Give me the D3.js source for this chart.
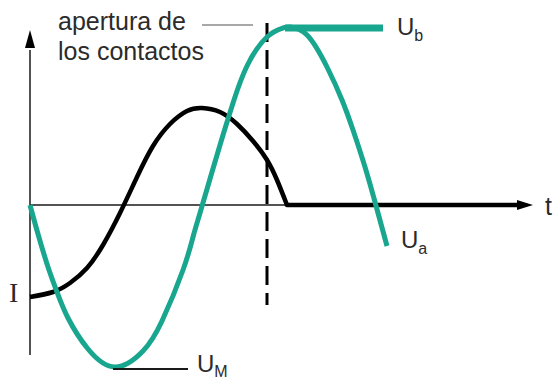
<!DOCTYPE html>
<html>
<head>
<meta charset="utf-8">
<script src="https://cdn.jsdelivr.net/npm/d3@7"></script>
<style>
  body { margin: 0; background: #fff; }
  svg { display: block; }
  .lbl { font-family: "Liberation Sans", Arial, sans-serif; fill: #2b2b2b; }
  .axis { stroke: #1a1a1a; stroke-width: 1.5; fill: none; }
</style>
</head>
<body>
<svg id="chart" width="557" height="380"></svg>
<script>
// time in arbitrary units (0..100), values in arbitrary units (0 on the time axis)
var currentI = [
  [0, -0.92], [4.6, -0.87], [8, -0.78], [11.4, -0.63], [14.6, -0.40],
  [18, -0.08], [21.4, 0.28], [24.6, 0.59], [28, 0.81], [31.4, 0.94],
  [34.4, 0.97], [38, 0.93], [41.4, 0.81], [44.6, 0.64], [47.4, 0.45],
  [49.4, 0.25], [51.4, 0]
];
var currentOff = [[51.4, 0], [97.4, 0]];
var voltageU = [
  [0, 0], [1.6, -0.29], [3.6, -0.62], [5.4, -0.87], [7.6, -1.13], [11.6, -1.44],
  [17, -1.62], [22.6, -1.46], [26.4, -1.16], [30.6, -0.65], [32.6, -0.32],
  [34, -0.08], [36.4, 0.33], [38.6, 0.70], [40.6, 1.02], [43.4, 1.39],
  [47.4, 1.68], [50.6, 1.77], [52, 1.78], [55.4, 1.70], [59.4, 1.38],
  [62.4, 1.05], [64.6, 0.75], [67, 0.38], [69, 0.03], [71.4, -0.41]
];
var plateauUb = [[51, 1.77], [70.6, 1.77]];
var contactOpen = 47.4;            // instant the contacts open
var openLabel = ["apertura de", "los contactos"];
var axisLabels = {t: "t", i: "I"};

var xScale = d3.scaleLinear().domain([0, 100]).range([30, 530]);
var yScale = d3.scaleLinear().domain([-1.5, 1.5]).range([355, 55]);

var svg = d3.select("#chart");
var line = d3.line()
  .x(function(d) { return xScale(d[0]); })
  .y(function(d) { return yScale(d[1]); })
  .curve(d3.curveNatural);

// axes
svg.append("line").attr("class", "axis")
  .attr("x1", xScale(0)).attr("x2", xScale(0))
  .attr("y1", yScale(-1.5)).attr("y2", yScale(1.55));
svg.append("path").attr("fill", "#000")
  .attr("d", "M" + xScale(0) + "," + yScale(1.75) + "l-5,18h10z");
svg.append("line").attr("class", "axis")
  .attr("x1", xScale(0)).attr("x2", xScale(98))
  .attr("y1", yScale(0)).attr("y2", yScale(0));
svg.append("path").attr("fill", "#000")
  .attr("d", "M" + xScale(100.6) + "," + yScale(0) + "l-16,-5v10z");

// dashed line: contacts open
svg.append("line")
  .attr("x1", xScale(contactOpen)).attr("x2", xScale(contactOpen))
  .attr("y1", yScale(1.82)).attr("y2", yScale(-1.0))
  .attr("stroke", "#000").attr("stroke-width", 3)
  .attr("stroke-dasharray", "19,8");

// current
svg.append("path").datum(currentI)
  .attr("d", line).attr("fill", "none")
  .attr("stroke", "#000").attr("stroke-width", 4.5)
  .attr("stroke-linejoin", "round");
svg.append("path").datum(currentOff)
  .attr("d", line).attr("fill", "none")
  .attr("stroke", "#000").attr("stroke-width", 4.5)
  .attr("stroke-linecap", "round");

// voltage
svg.append("path").datum(voltageU)
  .attr("d", line)
  .attr("fill", "none")
  .attr("stroke", "#19a68e").attr("stroke-width", 5);
svg.append("path").datum(plateauUb)
  .attr("d", line)
  .attr("stroke", "#19a68e").attr("stroke-width", 7);

// leader lines
svg.append("line")
  .attr("x1", xScale(34.4)).attr("x2", xScale(44.6))
  .attr("y1", yScale(1.8)).attr("y2", yScale(1.8))
  .attr("stroke", "#a8a8a8").attr("stroke-width", 2);
svg.append("line")
  .attr("x1", xScale(16.6)).attr("x2", xScale(31.6))
  .attr("y1", yScale(-1.64)).attr("y2", yScale(-1.64))
  .attr("stroke", "#1a1a1a").attr("stroke-width", 2);

// labels
svg.selectAll("text.open").data(openLabel).enter()
  .append("text").attr("class", "lbl open")
  .attr("x", 58).attr("y", function(d, i) { return 30 + i * 30; })
  .attr("font-size", 25).text(function(d) { return d; });

function subLabel(x, y, main, sub, dy) {
  var t = svg.append("text").attr("class", "lbl").attr("x", x).attr("y", y).attr("font-size", 24);
  t.append("tspan").text(main);
  t.append("tspan").attr("font-size", 16).attr("dy", dy).text(sub);
}
subLabel(397, 35, "U", "b", 6);
subLabel(401, 248, "U", "a", 6);
subLabel(197, 372, "U", "M", 5);

svg.append("text").attr("class", "lbl").attr("x", 545).attr("y", 215)
  .attr("font-size", 25).text(axisLabels.t);
svg.append("text").attr("x", 9).attr("y", 302)
  .attr("font-family", "Liberation Serif, serif").attr("font-size", 28)
  .attr("fill", "#2b2b2b").text(axisLabels.i);
</script>
</body>
</html>
